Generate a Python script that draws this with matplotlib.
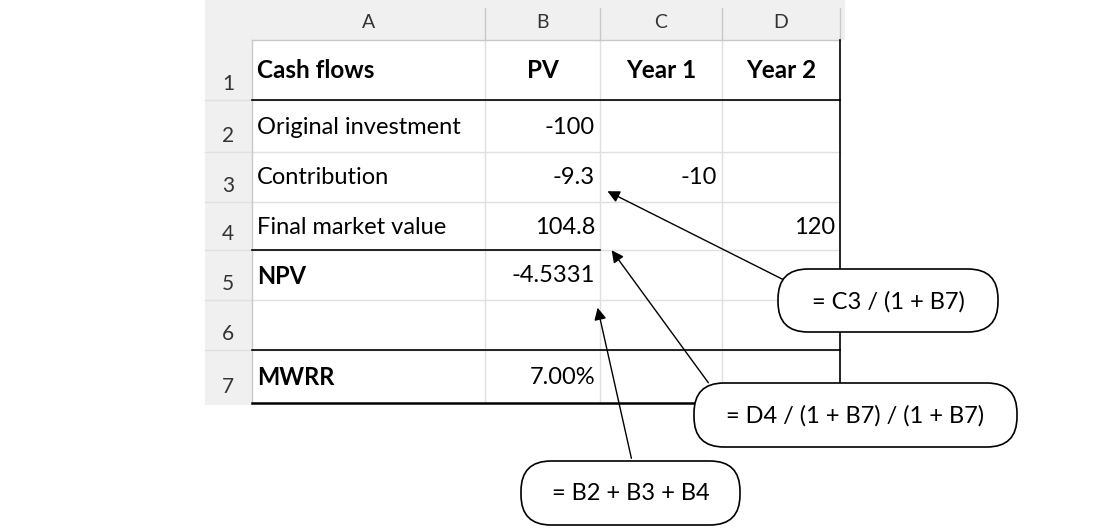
import matplotlib.pyplot as plt
from matplotlib.patches import FancyBboxPatch, Rectangle

col_letters = ['A', 'B', 'C', 'D']
row_nums = ['1', '2', '3', '4', '5', '6', '7']
labels = ['Cash flows', 'Original investment', 'Contribution', 'Final market value', 'NPV', '', 'MWRR']
bold_rows = [0, 4, 6]
pv_col = ['PV', '-100', '-9.3', '104.8', '-4.5331', '', '7.00%']
year1_col = ['Year 1', '', '-10', '', '', '', '']
year2_col = ['Year 2', '', '', '120', '', '', '']
callouts = ['= C3 / (1 + B7)', '= D4 / (1 + B7) / (1 + B7)', '= B2 + B3 + B4']

col_x = [252, 485, 600, 722, 840]
row_y = [40, 100, 152, 202, 250, 300, 350, 403]
FONT = 'Lato'

fig = plt.figure(figsize=(11.04, 5.32), dpi=100)
ax = fig.add_axes([0, 0, 1, 1])
ax.set_xlim(0, 1104)
ax.set_ylim(532, 0)
ax.axis('off')

# sheet background
ax.add_patch(Rectangle((205, 0), 640, 40, color='#f0f0f0', lw=0))
ax.add_patch(Rectangle((205, 40), 47, 365, color='#f0f0f0', lw=0))
for i, c in enumerate(col_letters):
    ax.text((col_x[i] + col_x[i + 1]) / 2, 23, c, ha='center', va='center', fontsize=14, color='#333333', family=FONT)
for x in col_x[1:]:
    ax.plot([x, x], [8, 40], color='#c8c8c8', lw=1)
for j, r in enumerate(row_nums):
    ax.text(228, row_y[j + 1] - 16, r, ha='center', va='center', fontsize=15, color='#333333', family=FONT)

# grid lines
for y in row_y[1:-1]:
    ax.plot([205, 840], [y, y], color='#e0e0e0', lw=1)
for x in col_x[1:-1]:
    ax.plot([x, x], [40, 403], color='#e0e0e0', lw=1)
ax.plot([252, 252], [40, 403], color='#c8c8c8', lw=1)
ax.plot([252, 840], [40, 40], color='#c8c8c8', lw=1)
ax.plot([252, 840], [100, 100], color='black', lw=1.2)
ax.plot([252, 600], [250, 250], color='black', lw=1.2)
ax.plot([252, 840], [350, 350], color='black', lw=1.2)
ax.plot([252, 840], [403, 403], color='black', lw=1.8)
ax.plot([840, 840], [40, 403], color='black', lw=1.2)

# cells
for j in range(len(labels)):
    yc = (row_y[j] + row_y[j + 1]) / 2 + 1
    if j == 0:
        yc = 71
    w = 'bold' if j in bold_rows else 'normal'
    fs = 17.5 if j == 0 else 17
    ax.text(257, yc, labels[j], ha='left', va='center', fontsize=fs, fontweight=w, family=FONT)
    if j == 0:
        for i, col in enumerate([pv_col, year1_col, year2_col]):
            ax.text((col_x[i + 1] + col_x[i + 2]) / 2, yc, col[0], ha='center', va='center',
                    fontsize=fs, fontweight='bold', family=FONT)
    else:
        for i, col in enumerate([pv_col, year1_col, year2_col]):
            ax.text(col_x[i + 2] - 5, yc, col[j], ha='right', va='center', fontsize=fs, family=FONT)

# callouts
boxes = [(778, 269, 220, 63), (694, 383, 323, 64), (521, 461, 219, 64)]
arrows = [((790, 283), (605, 190)), ((710, 385), (610, 248)), ((632, 461), (597, 305))]
for (bx, by, bw, bh), txt, (start, end) in zip(boxes, callouts, arrows):
    ax.annotate('', xy=end, xytext=start,
                arrowprops=dict(arrowstyle='-|>', color='black', lw=1, mutation_scale=18))
    ax.add_patch(FancyBboxPatch((bx, by), bw, bh, boxstyle='round,pad=0,rounding_size=30',
                                fc='white', ec='black', lw=1.2, zorder=3))
    ax.text(bx + bw / 2, by + bh / 2 + 1, txt, ha='center', va='center', fontsize=17, family=FONT, zorder=4)

fig.savefig('out.png', dpi=100)
